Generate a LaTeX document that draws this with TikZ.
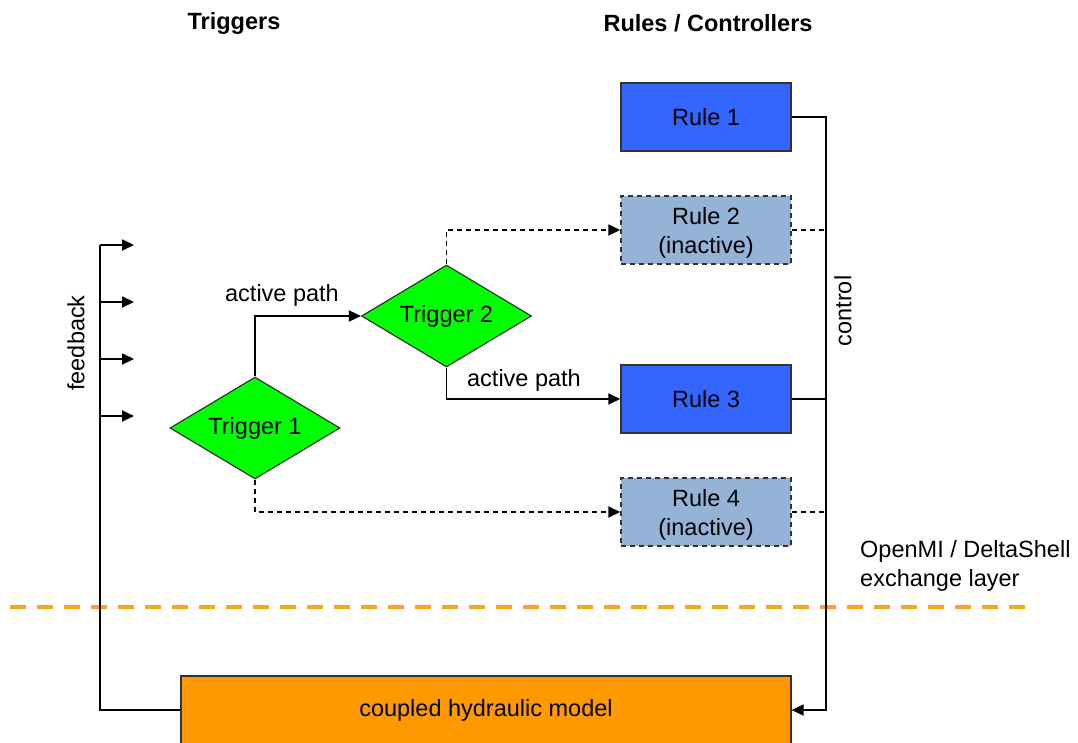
\documentclass[tikz,border=0pt]{standalone}
\usepackage{fontspec}
\setmainfont{Liberation Sans}
\usetikzlibrary{shapes.geometric,arrows.meta}
\definecolor{ruleblue}{HTML}{3366FF}
\definecolor{inactblue}{HTML}{95B3D7}
\definecolor{trigreen}{HTML}{00FF00}
\definecolor{modelorange}{HTML}{FF9900}
\definecolor{layerorange}{HTML}{FFA31A}
\newcommand{\nodp}[1]{\raisebox{0pt}[\height][0pt]{#1}}
\tikzset{
  txt/.style={font=\fontsize{23.5}{29}\selectfont, inner sep=0pt, align=center},
  rulebox/.style={txt, draw=black!80, line width=1.5pt, minimum width=170pt, minimum height=68pt, fill=ruleblue},
  inactbox/.style={rulebox, fill=inactblue, dashed, dash pattern=on 5pt off 4pt},
  trig/.style={txt, diamond, aspect=1.7, draw=black!80, line width=1.2pt, fill=trigreen, minimum width=170pt, minimum height=102pt},
  conn/.style={line width=1.8pt, black},
  arr/.style={conn, -{Triangle[length=12pt,width=11pt]}},
  darr/.style={arr, dash pattern=on 5pt off 4pt},
  dconn/.style={conn, dash pattern=on 5pt off 4pt},
  head/.style={font=\fontsize{23.5}{29}\selectfont\bfseries, inner sep=0pt},
}
\begin{document}
\begin{tikzpicture}[x=1pt,y=-1pt]
\useasboundingbox (0,0) rectangle (1078,742);
\clip (0,0) rectangle (1078,742);
% headers
\node[head] (hT) at (234,23) {Triggers};
\node[head] (hR) at (708,23) {Rules / Controllers};
% exchange layer
\coordinate (L1) at (10,607);
\coordinate (L2) at (1030,607);
\draw[layerorange, line width=4pt, dash pattern=on 16pt off 11pt] (L1) -- (L2);
\node[txt, align=left, anchor=west] (ex) at (860,565.5) {OpenMI / DeltaShell\\exchange layer};
% rules
\node[rulebox] (r1) at (706,117) {Rule 1};
\node[inactbox] (r2) at (706,230) {Rule 2\\\nodp{(inactive)}};
\node[rulebox] (r3) at (706,399) {Rule 3};
\node[inactbox] (r4) at (706,512) {Rule 4\\\nodp{(inactive)}};
% triggers
\node[trig] (t1) at (255,428) {Trigger 1};
\node[trig] (t2) at (446.5,316) {Trigger 2};
% model
\node[txt, draw=black!80, line width=1.2pt, fill=modelorange, minimum width=610pt, minimum height=68pt] (m) at (486,710) {coupled hydraulic model};
% trigger paths
\draw[arr] (t1.north) |- (t2.west);
\draw[arr] (t2.south) |- (r3.west);
\draw[darr] (t2.north) |- (r2.west);
\draw[darr] (t1.south) |- (r4.west);
\node[txt] (ap1) at (282,295) {active path};
\node[txt] (ap2) at (524,380) {active path};
% control bus
\coordinate (cx) at (826,400);
\draw[arr] (r1.east) -| (cx) |- (m.east);
\draw[dconn] (r2.east) -- (r2.east -| cx);
\draw[conn] (r3.east) -- (r3.east -| cx);
\draw[dconn] (r4.east) -- (r4.east -| cx);
\node[txt, rotate=90] (ctl) at (843,311) {control};
% feedback
\coordinate (f1) at (100,245);
\coordinate (f2) at (100,302);
\coordinate (f3) at (100,359);
\coordinate (f4) at (100,416);
\coordinate (e1) at (134,245);
\coordinate (e2) at (134,302);
\coordinate (e3) at (134,359);
\coordinate (e4) at (134,416);
\draw[conn] (m.west) -| (f1);
\draw[arr] (f1) -- (e1);
\draw[arr] (f2) -- (e2);
\draw[arr] (f3) -- (e3);
\draw[arr] (f4) -- (e4);
\node[txt, rotate=90] (fb) at (76,343) {feedback};
\end{tikzpicture}
\end{document}
